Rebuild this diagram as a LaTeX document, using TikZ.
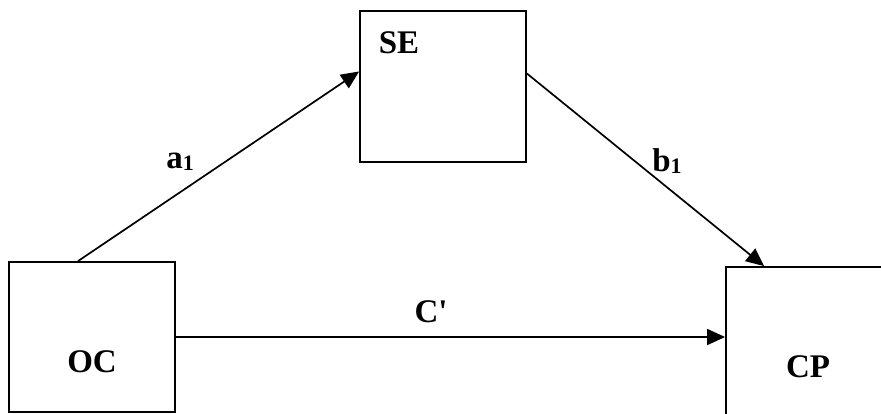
\documentclass[tikz,border=0pt]{standalone}
\usepackage{fontspec}
\setmainfont{Liberation Serif}
\usetikzlibrary{arrows.meta}
\newcommand{\subone}{\raisebox{-2pt}{\fontsize{22}{22}\selectfont 1}}
\begin{document}
\begin{tikzpicture}[x=1pt,y=-1pt,
  box/.style={draw,line width=1.8pt,rectangle,inner sep=0pt},
  lbl/.style={anchor=base,inner sep=0pt,font=\fontsize{33}{38}\selectfont\bfseries},
  conn/.style={line width=1.7pt,-{Triangle[length=18pt,width=16pt]}}]
\clip (0,0) rectangle (881,413);
\fill[white] (0,0) rectangle (881,413);
\node[box,minimum width=166pt,minimum height=150pt] (oc) at (92,337) {};
\node[box,minimum width=166pt,minimum height=151pt] (se) at (443,86.5) {};
\node[box,minimum width=220pt,minimum height=220pt] (cp) at (836,377) {};
\node[lbl] (oct) at (92,372) {OC};
\node[lbl] (set) at (399,53) {SE};
\node[lbl] (cpt) at (808,377) {CP};
\node[lbl] (a1) at (180,168) {a\subone};
\node[lbl] (b1) at (667,171) {b\subone};
\node[lbl] (cc) at (431,322) {C\textquotesingle};
\coordinate (ocn) at ([xshift=-14pt]oc.north);
\coordinate (sew) at ([yshift=15pt]se.west);
\coordinate (see) at ([yshift=13pt]se.east);
\coordinate (cpn) at ([xshift=39pt]cp.north west);
\draw[conn] (ocn) -- (sew);
\draw[conn] (see) -- (cpn);
\draw[conn] (oc.east) -- (cp.west |- oc.east);
\end{tikzpicture}
\end{document}
